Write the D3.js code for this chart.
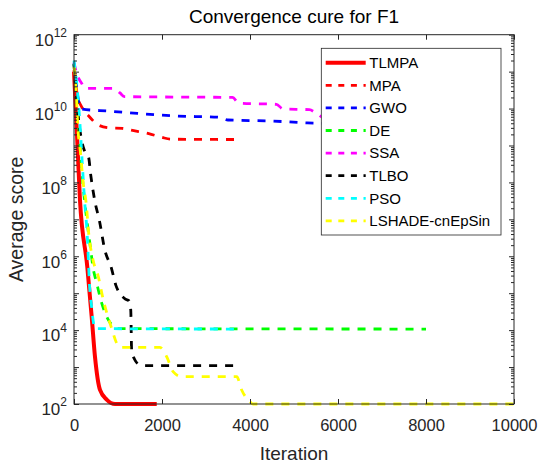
<!DOCTYPE html>
<html>
<head>
<meta charset="utf-8">
<script src="https://cdn.jsdelivr.net/npm/d3@7"></script>
<style>
  body { margin: 0; background: #fff; }
  svg { font-family: "Liberation Sans", Arial, sans-serif; }
</style>
</head>
<body>
<div id="myDiv"></div>
<script>
// Properties
var chartTitle = 'Convergence cure for F1';
var xAxisTitle = 'Iteration';
var yAxisTitle = 'Average score';
var xTicks = [0, 2000, 4000, 6000, 8000, 10000];
var yExponents = [2, 4, 6, 8, 10, 12];

// Series data (iteration, average score)
var seriesNames = ['TLMPA', 'MPA', 'GWO', 'DE', 'SSA', 'TLBO', 'PSO', 'LSHADE-cnEpSin'];
var seriesColors = ['#ff0000', '#ff0000', '#0000ff', '#00ff00', '#ff00ff', '#000000', '#00ffff', '#ffff00'];

var tlmpaIter = [0, 60, 136, 302, 402, 477, 591, 743, 932, 1880];
var tlmpaScore = [1e11, 3.2e9, 3.3e7, 5.2e5, 2.3e4, 1.9e3, 2.4e2, 1.32e2, 1e2, 1e2];

var mpaIter = [0, 100, 150, 350, 550, 800, 1100, 1300, 1700, 2000, 2200, 3730];
var mpaScore = [1.1e11, 1.7e10, 1.26e10, 6.0e9, 3.6e9, 3.0e9, 2.9e9, 2.6e9, 2.1e9, 1.66e9, 1.48e9, 1.45e9];

var gwoIter = [0, 100, 150, 800, 1200, 2300, 3300, 3500, 4500, 5300, 5600, 7400];
var gwoScore = [1.7e11, 1.7e10, 9.8e9, 8.5e9, 7.8e9, 6.3e9, 5.8e9, 4.9e9, 4.6e9, 4.1e9, 4.0e9, 3.8e9];

var deIter = [0, 100, 200, 300, 380, 430, 515, 630, 780, 900, 1010, 8000];
var deScore = [1.6e11, 4e9, 1e8, 7.9e6, 1.5e6, 5.2e5, 1.9e5, 5.4e4, 1.9e4, 1.26e4, 1.1e4, 1.07e4];

var ssaIter = [0, 50, 175, 250, 900, 1050, 1150, 3600, 3750, 4600, 4750, 5350, 5500, 5700, 7400];
var ssaScore = [1.8e11, 9.8e10, 4.8e10, 3.5e10, 3.5e10, 2.6e10, 2.1e10, 2.0e10, 1.4e10, 1.3e10, 9.8e9, 9.3e9, 7.6e9, 5.5e9, 5.0e9];

var tlboIter = [0, 50, 100, 180, 250, 330, 380, 470, 580, 700, 850, 950, 1170, 1250, 1290, 1310, 1400, 1500, 1600, 3700];
var tlboScore = [1.6e11, 2.5e10, 5.5e9, 1.26e9, 6.6e8, 4.9e8, 1.6e8, 3.3e7, 8.9e6, 1.5e6, 4.8e5, 1.66e5, 6.9e4, 6.2e4, 3.5e4, 2.9e3, 1.45e3, 1.15e3, 1.1e3, 1.1e3];

var psoIter = [0, 60, 130, 190, 240, 300, 330, 350, 400, 440, 480, 3700];
var psoScore = [2e11, 5e10, 4.9e9, 3e8, 3.3e7, 3.8e6, 6.6e5, 1.9e5, 4.3e4, 1.66e4, 1.1e4, 1.07e4];

var lshadeIter = [0, 50, 90, 150, 200, 280, 334, 432, 552, 666, 857, 970, 1045, 1955, 2107, 2257, 2448, 3698, 3811, 4000, 4070, 10000];
var lshadeScore = [1.3e11, 2.8e10, 2.8e9, 6e8, 1.2e8, 2.5e7, 4.2e6, 8e5, 2.8e5, 6.6e4, 1.1e4, 4.4e3, 3.4e3, 3.4e3, 1.9e3, 7.4e2, 5.5e2, 5.5e2, 2.4e2, 1.15e2, 1e2, 1e2];

var seriesIters = [tlmpaIter, mpaIter, gwoIter, deIter, ssaIter, tlboIter, psoIter, lshadeIter];
var seriesScores = [tlmpaScore, mpaScore, gwoScore, deScore, ssaScore, tlboScore, psoScore, lshadeScore];

//--------------------------------------------------
var textColor = '#262626';
var margin = {top: 34.7, right: 24, bottom: 64, left: 74};
var width = 538, height = 468;
var plotW = width - margin.left - margin.right;
var plotH = height - margin.top - margin.bottom;

var svg = d3.select('#myDiv').append('svg')
  .attr('width', width)
  .attr('height', height);

var g = svg.append('g')
  .attr('transform', 'translate(' + margin.left + ',' + margin.top + ')');

var x = d3.scaleLinear().domain([0, 10000]).range([0, plotW]);
var y = d3.scaleLog().domain([1e2, 1e12]).range([plotH, 0]);

// Lines
var line = d3.line()
  .x(function(d) { return x(d[0]); })
  .y(function(d) { return y(d[1]); })
  .curve(d3.curveMonotoneX);

seriesNames.forEach(function(name, i) {
  var pts = seriesIters[i].map(function(it, j) { return [it, seriesScores[i][j]]; });
  g.append('path')
    .datum(pts)
    .attr('fill', 'none')
    .attr('stroke', seriesColors[i])
    .attr('stroke-width', i === 0 ? 4 : 2.8)
    .attr('stroke-dasharray', i === 0 ? null : '8,8')
    .attr('d', line);
});

// Minor / major y ticks
var majorY = d3.range(2, 13).map(function(k) { return Math.pow(10, k); });
var minorY = [];
for (var k = 2; k < 12; k++) {
  for (var m = 2; m <= 9; m++) minorY.push(m * Math.pow(10, k));
}

function styleAxis(sel) {
  sel.selectAll('.domain').remove();
  sel.selectAll('line').attr('stroke', textColor).attr('stroke-width', 1);
  sel.selectAll('text').attr('fill', textColor).style('font-size', '16.5px');
}

// Bottom and top x axes (ticks inside)
g.append('g')
  .attr('transform', 'translate(0,' + plotH + ')')
  .call(d3.axisBottom(x).tickValues(xTicks).tickSizeInner(-5).tickSizeOuter(0).tickPadding(15).tickFormat(d3.format('d')))
  .call(styleAxis);

g.append('g')
  .call(d3.axisTop(x).tickValues(xTicks).tickSizeInner(-5).tickSizeOuter(0).tickFormat(''))
  .call(styleAxis);

// Left and right y axes
[0, plotW].forEach(function(xp, side) {
  var mk = side === 0 ? d3.axisLeft : d3.axisRight;
  g.append('g')
    .attr('transform', 'translate(' + xp + ',0)')
    .call(mk(y).tickValues(majorY).tickSizeInner(-5).tickSizeOuter(0).tickFormat(''))
    .call(styleAxis);
  g.append('g')
    .attr('transform', 'translate(' + xp + ',0)')
    .call(mk(y).tickValues(minorY).tickSizeInner(-3).tickSizeOuter(0).tickFormat(''))
    .call(styleAxis);
});

// Y tick labels 10^k
var yLab = g.append('g').attr('fill', textColor);
yExponents.forEach(function(e) {
  var yy = y(Math.pow(10, e));
  var t = yLab.append('text')
    .attr('text-anchor', 'end')
    .attr('x', -7)
    .attr('y', yy + 11.3);
  t.append('tspan').style('font-size', '17px').text('10');
  t.append('tspan').style('font-size', '12px').attr('dy', -9).text(e);
});

// Box
g.append('rect')
  .attr('width', plotW)
  .attr('height', plotH)
  .attr('fill', 'none')
  .attr('stroke', textColor)
  .attr('stroke-width', 1);

// Titles
svg.append('text')
  .attr('x', margin.left + plotW / 2)
  .attr('y', 23.3)
  .attr('text-anchor', 'middle')
  .style('font-size', '19px')
  .attr('fill', '#000')
  .text(chartTitle);

svg.append('text')
  .attr('x', margin.left + plotW / 2)
  .attr('y', 460)
  .attr('text-anchor', 'middle')
  .style('font-size', '19px')
  .attr('fill', textColor)
  .text(xAxisTitle);

svg.append('text')
  .attr('transform', 'translate(23.3,' + (margin.top + plotH / 2) + ') rotate(-90)')
  .attr('text-anchor', 'middle')
  .style('font-size', '19.5px')
  .attr('fill', textColor)
  .text(yAxisTitle);

// Legend
var legend = svg.append('g').attr('transform', 'translate(321.3,48.3)');
legend.append('rect')
  .attr('width', 179.7)
  .attr('height', 186.7)
  .attr('fill', '#fff')
  .attr('stroke', textColor)
  .attr('stroke-width', 0.8);

var rowH = 22.6;
seriesNames.forEach(function(name, i) {
  var ry = 14.4 + i * rowH;
  legend.append('line')
    .attr('x1', 4.4).attr('x2', 44.4)
    .attr('y1', ry).attr('y2', ry)
    .attr('stroke', seriesColors[i])
    .attr('stroke-width', i === 0 ? 4 : 2.8)
    .attr('stroke-dasharray', i === 0 ? null : '6,6.6');
  legend.append('text')
    .attr('x', 48)
    .attr('y', ry)
    .attr('dy', '0.35em')
    .style('font-size', '15px')
    .attr('fill', '#000')
    .text(name);
});
</script>
</body>
</html>
